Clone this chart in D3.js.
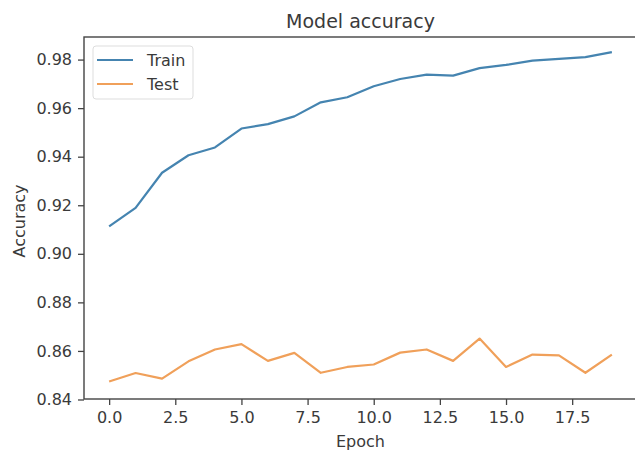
<!DOCTYPE html>
<html>
<head>
<meta charset="utf-8">
<script src="https://cdn.jsdelivr.net/npm/d3@7"></script>
<style>
  body { margin: 0; background: #fff; }
  text { font-family: "DejaVu Sans", sans-serif; fill: #3a3a3a; }
</style>
</head>
<body>
<div id="chart"></div>
<script>
const epochs = d3.range(20);
const trainAcc = [0.9113, 0.9189, 0.9334, 0.9406, 0.9438, 0.9516, 0.9534, 0.9566, 0.9624, 0.9645,
                  0.9690, 0.9720, 0.9738, 0.9734, 0.9765, 0.9778, 0.9796, 0.9803, 0.9810, 0.9831];
const testAcc = [0.8474, 0.8509, 0.8486, 0.8557, 0.8606, 0.8628, 0.8559, 0.8592, 0.8510, 0.8534,
                 0.8544, 0.8593, 0.8606, 0.8559, 0.8651, 0.8534, 0.8585, 0.8582, 0.8510, 0.8585];
const xTicks = [0, 2.5, 5, 7.5, 10, 12.5, 15, 17.5];
const yTicks = [0.84, 0.86, 0.88, 0.90, 0.92, 0.94, 0.96, 0.98];
const seriesNames = ["Train", "Test"];
const colors = ["#4584b0", "#f0a05a"];

const width = 635, height = 450;
const m = { left: 84, right: 637, top: 37, bottom: 399 };

const svg = d3.select("#chart").append("svg")
  .attr("width", width).attr("height", height);

const x = d3.scaleLinear().domain([-0.95, 19.95]).range([m.left, m.right]);
const y = d3.scaleLinear().domain([0.8402, 0.9893]).range([m.bottom, m.top]);

// axes
const xAxis = svg.append("g")
  .attr("transform", `translate(0,${m.bottom})`)
  .call(d3.axisBottom(x).tickValues(xTicks).tickFormat(d3.format(".1f")).tickSize(6).tickPadding(7));
const yAxis = svg.append("g")
  .attr("transform", `translate(${m.left},0)`)
  .call(d3.axisLeft(y).tickValues(yTicks).tickFormat(d3.format(".2f")).tickSize(6).tickPadding(6));

[xAxis, yAxis].forEach(g => {
  g.select(".domain").remove();
  g.selectAll(".tick line").attr("stroke", "#444").attr("stroke-width", 1.3);
  g.selectAll(".tick text").style("font-size", "16px").attr("fill", "#3a3a3a");
});

// frame
svg.append("rect")
  .attr("x", m.left).attr("y", m.top)
  .attr("width", m.right - m.left).attr("height", m.bottom - m.top)
  .attr("fill", "none").attr("stroke", "#444").attr("stroke-width", 1.4);

const line = d3.line().x((d, i) => x(epochs[i])).y(d => y(d));

[trainAcc, testAcc].forEach((s, k) => {
  svg.append("path")
    .datum(s)
    .attr("d", line)
    .attr("fill", "none")
    .attr("stroke", colors[k])
    .attr("stroke-width", 2.2)
    .attr("stroke-linejoin", "round");
});

// title and labels
svg.append("text")
  .attr("x", (m.left + m.right) / 2).attr("y", 28)
  .attr("text-anchor", "middle")
  .style("font-size", "19px")
  .text("Model accuracy");

svg.append("text")
  .attr("x", (m.left + m.right) / 2).attr("y", 447)
  .attr("text-anchor", "middle")
  .style("font-size", "16px")
  .text("Epoch");

svg.append("text")
  .attr("transform", "translate(25,221) rotate(-90)")
  .attr("text-anchor", "middle")
  .style("font-size", "16px")
  .text("Accuracy");

// legend
const legend = svg.append("g").attr("transform", "translate(93,46)");
legend.append("rect")
  .attr("width", 100).attr("height", 53).attr("rx", 3)
  .attr("fill", "#fff").attr("stroke", "#ddd");
seriesNames.forEach((name, i) => {
  const ly = 14 + i * 24;
  legend.append("line")
    .attr("x1", 4).attr("x2", 40).attr("y1", ly).attr("y2", ly)
    .attr("stroke", colors[i]).attr("stroke-width", 2.2);
  legend.append("text")
    .attr("x", 54).attr("y", ly + 6)
    .style("font-size", "16px")
    .text(name);
});
</script>
</body>
</html>
